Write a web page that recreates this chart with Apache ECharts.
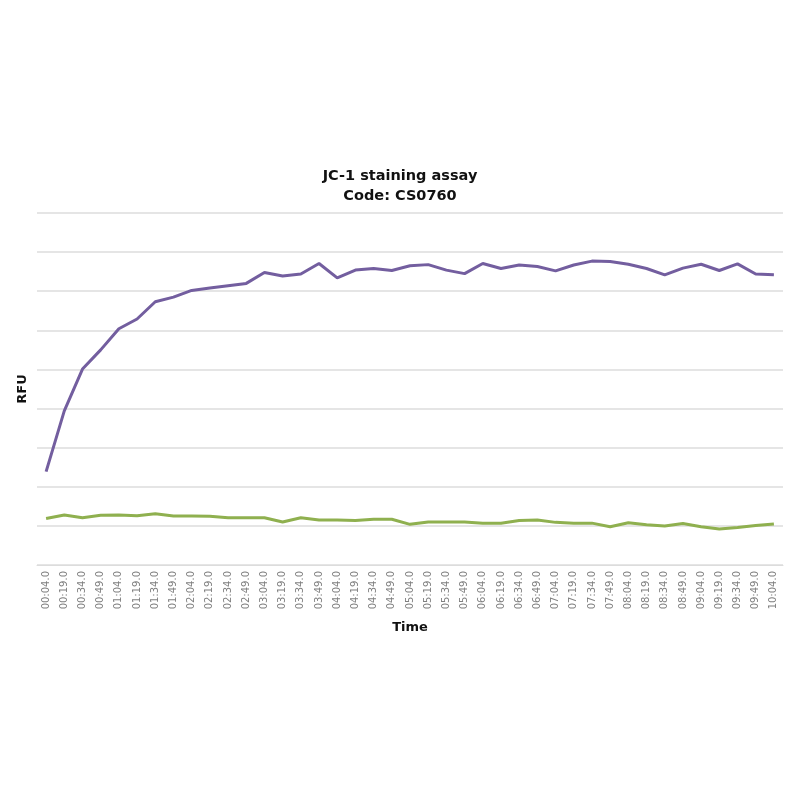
<!DOCTYPE html>
<html>
<head>
<meta charset="utf-8">
<script src="https://cdn.jsdelivr.net/npm/echarts@6/dist/echarts.min.js"></script>
<style>html,body{margin:0;padding:0;background:#fff}#c{width:800px;height:800px}</style>
</head>
<body>
<div id="c"></div>
<script>
const times = ["00:04.0","00:19.0","00:34.0","00:49.0","01:04.0","01:19.0","01:34.0","01:49.0","02:04.0","02:19.0","02:34.0","02:49.0","03:04.0","03:19.0","03:34.0","03:49.0","04:04.0","04:19.0","04:34.0","04:49.0","05:04.0","05:19.0","05:34.0","05:49.0","06:04.0","06:19.0","06:34.0","06:49.0","07:04.0","07:19.0","07:34.0","07:49.0","08:04.0","08:19.0","08:34.0","08:49.0","09:04.0","09:19.0","09:34.0","09:49.0","10:04.0"];
const redSeries = [2386,3940,5010,5500,6040,6290,6730,6850,7020,7080,7140,7200,7480,7390,7440,7710,7340,7540,7580,7530,7650,7680,7540,7450,7710,7580,7670,7630,7520,7670,7770,7760,7690,7580,7420,7590,7690,7530,7700,7440,7420];
const greenSeries = [1190,1280,1210,1270,1280,1260,1310,1250,1250,1245,1210,1210,1210,1100,1210,1150,1150,1140,1170,1170,1040,1100,1100,1100,1070,1070,1140,1150,1090,1070,1070,980,1080,1030,1000,1060,980,920,960,1010,1050];

const chart = echarts.init(document.getElementById('c'));
chart.setOption({
  animation: false,
  title: {
    text: 'JC-1 staining assay\nCode: CS0760',
    left: 'center', top: 161,
    textStyle: { fontFamily: 'DejaVu Sans', fontWeight: 'bold', fontSize: 14.5, color: '#111', lineHeight: 20 }
  },
  grid: { left: 37, right: 17, top: 213, bottom: 235 },
  xAxis: {
    type: 'category', data: times, boundaryGap: true,
    name: 'Time', nameLocation: 'middle', nameGap: 56,
    nameTextStyle: { fontFamily: 'DejaVu Sans', fontWeight: 'bold', fontSize: 13, color: '#111' },
    axisLine: { lineStyle: { color: '#dcdcdc' } },
    axisTick: { show: false },
    axisLabel: { rotate: 90, interval: 0, fontFamily: 'DejaVu Sans', fontSize: 10, color: '#808080', margin: 6 }
  },
  yAxis: {
    type: 'value', min: 0, max: 9000, interval: 1000,
    name: 'RFU', nameLocation: 'middle', nameGap: 8, nameRotate: 90,
    nameTextStyle: { fontFamily: 'DejaVu Sans', fontWeight: 'bold', fontSize: 13, color: '#111' },
    axisLabel: { show: false }, axisLine: { show: false }, axisTick: { show: false },
    splitLine: { lineStyle: { color: '#dcdcdc', width: 1.5 } }
  },
  series: [
    { name: 'Red', type: 'line', data: redSeries, symbol: 'none', lineStyle: { color: '#735e9f', width: 3 } },
    { name: 'Green', type: 'line', data: greenSeries, symbol: 'none', lineStyle: { color: '#8fb04f', width: 3 } }
  ]
});
</script>
</body>
</html>
